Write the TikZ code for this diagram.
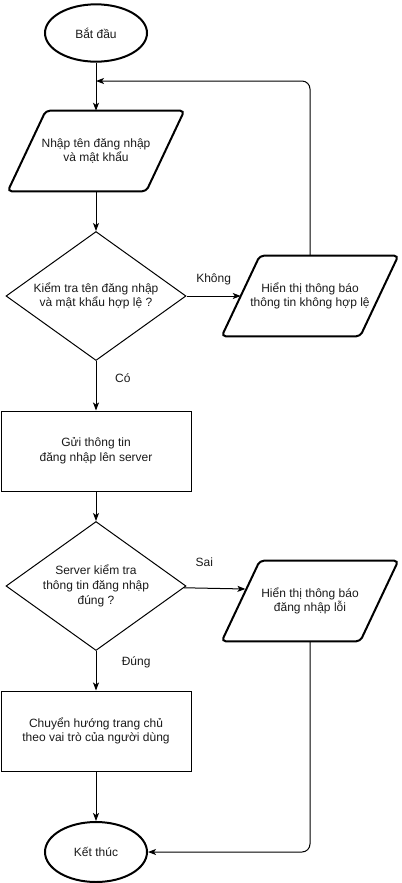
\documentclass[tikz,border=0pt]{standalone}
\usepackage{fontspec}
\setmainfont{Liberation Sans}
\usetikzlibrary{shapes.geometric, arrows.meta}
\definecolor{flowink}{HTML}{000000}
\definecolor{flowtext}{HTML}{1A1A1A}

\begin{document}
\begin{tikzpicture}[x=0.75pt, y=-0.75pt,
  every node/.style={font=\fontsize{9}{11}\selectfont, align=center, text=flowtext},
  terminal/.style={draw=flowink, ellipse, line width=1.5pt, minimum width=76.5pt, minimum height=43pt, inner sep=0pt},
  iobox/.style={draw=flowink, line width=1.5pt, rounded corners=3pt},
  io/.style={minimum width=103.5pt, minimum height=60pt, inner sep=0pt,
    append after command={\pgfextra{\draw[iobox] ([xshift=14.25pt]\tikzlastnode.north west) -- ([xshift=14.25pt]\tikzlastnode.north east) -- ([xshift=-14.25pt]\tikzlastnode.south east) -- ([xshift=-14.25pt]\tikzlastnode.south west) -- cycle;}}},
  process/.style={draw=flowink, rectangle, line width=0.75pt, minimum width=142.5pt, minimum height=60pt},
  decision/.style={draw=flowink, diamond, line width=0.75pt, minimum width=135pt, minimum height=96.75pt, inner sep=0pt},
  flow/.style={draw=flowink, line width=0.75pt, -{Stealth[length=6pt, width=4.5pt, inset=1.5pt]}},
  edgelabel/.style={inner sep=0pt}]

  \useasboundingbox (0,0) rectangle (402,883);

  \node[terminal] (start) at (96,33) {Bắt đầu};
  \node[io] (input) at (96,151) {Nhập tên đăng nhập\\ và mật khẩu};
  \node[decision, label={center:{Kiểm tra tên đăng nhập\\và mật khẩu hợp lệ ?}}] (check) at (96,296) {};
  \node[io] (invalid) at (310,296) {Hiển thị thông báo\\thông tin không hợp lệ};
  \node[process] (send) at (96,451) {Gửi thông tin\\đăng nhập lên server};
  \node[decision, label={center:{Server kiểm tra\\thông tin đăng nhập\\đúng ?}}] (verify) at (96,586) {};
  \node[io] (error) at (310,601) {Hiển thị thông báo\\đăng nhập lỗi};
  \node[process] (home) at (96,731) {Chuyển hướng trang chủ\\theo vai trò của người dùng};
  \node[terminal, minimum height=45pt] (finish) at (96,852) {Kết thúc};
  \coordinate (retry) at (96,81);

  \draw[flow] (start) -- (input);
  \draw[flow] (input) -- (check);
  \draw[flow] (check) -- node[edgelabel, midway, above=8pt] {Không} (invalid);
  \draw[flow, rounded corners=6pt] (invalid.north) |- (retry);
  \draw[flow] (check) -- node[edgelabel, pos=0.35, right=14pt] {Có} (send);
  \draw[flow] (send) -- (verify);
  \draw[flow] (verify) -- node[edgelabel, pos=0.33, above=16pt] {Sai} ([xshift=3.5pt, yshift=9pt]error.west);
  \draw[flow, rounded corners=6pt] (error.south) |- (finish.east);
  \draw[flow] (verify) -- node[edgelabel, pos=0.28, right=19pt] {Đúng} (home);
  \draw[flow] (home) -- (finish);

\end{tikzpicture}
\end{document}
